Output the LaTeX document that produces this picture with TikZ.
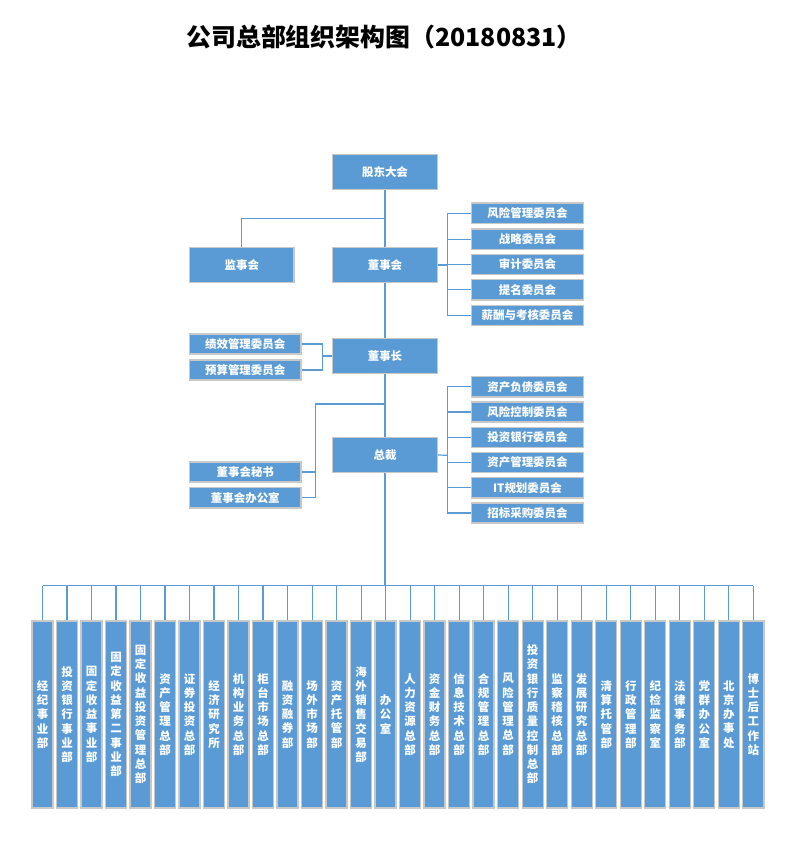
\documentclass[tikz,border=0pt]{standalone}
\usepackage{fontspec}
\newfontfamily\cjk{Noto Sans CJK SC}
\usetikzlibrary{calc}
\definecolor{boxblue}{HTML}{5B9BD5}
\definecolor{linkblue}{HTML}{5B9BD5}
\definecolor{boxedge}{HTML}{C8C8C8}
\begin{document}
\begin{tikzpicture}[x=1bp,y=-1bp,
  box/.style={fill=boxblue, draw=boxedge, line width=1.4bp, inner sep=0pt,
    text=white, font=\cjk\bfseries\fontsize{11.5}{14.3}\selectfont},
  bigbox/.style={box, minimum width=104.5bp, minimum height=34.6bp},
  cmbox/.style={box, minimum width=111.5bp, minimum height=20.3bp},
  colbox/.style={box, minimum width=21bp, minimum height=187bp, align=center},
  link/.style={draw=linkblue, line width=1.2bp},
  title/.style={font=\cjk\bfseries\fontsize{25}{30}\selectfont, text=black}
]
\useasboundingbox[fill=white] (0,0) rectangle (804,842);

% title
\node[title] (ttl) at (384,37) {公司总部组织架构图（20180831）};

% governance spine
\node[bigbox] (gd)  at (385,172) {股东大会};
\node[bigbox] (jsh) at (241.8,265) {监事会};
\node[bigbox] (dsh) at (385,265) {董事会};
\node[bigbox] (dsz) at (385,356) {董事长};
\node[bigbox] (zc)  at (385,455) {总裁};

% board committees
\node[cmbox] (c1) at (527.5,213.3) {风险管理委员会};
\node[cmbox] (c2) at (527.5,239.3) {战略委员会};
\node[cmbox] (c3) at (527.5,264.5) {审计委员会};
\node[cmbox] (c4) at (527.5,289.7) {提名委员会};
\node[cmbox] (c5) at (527.5,315.5) {薪酬与考核委员会};

% chairman committees
\node[cmbox] (l1) at (245.2,344) {绩效管理委员会};
\node[cmbox] (l2) at (245.2,370) {预算管理委员会};

% president committees
\node[cmbox] (d1) at (527.5,386.7) {资产负债委员会};
\node[cmbox] (d2) at (527.5,412) {风险控制委员会};
\node[cmbox] (d3) at (527.5,437.5) {投资银行委员会};
\node[cmbox] (d4) at (527.5,462.5) {资产管理委员会};
\node[cmbox] (d5) at (527.5,487.7) {IT规划委员会};
\node[cmbox] (d6) at (527.5,513) {招标采购委员会};

% board secretary
\node[cmbox] (s1) at (245.3,472) {董事会秘书};
\node[cmbox] (s2) at (245.3,497.7) {董事会办公室};

% departments
\foreach \t [count=\i] in {
  {经\\纪\\事\\业\\部},
  {投\\资\\银\\行\\事\\业\\部},
  {固\\定\\收\\益\\事\\业\\部},
  {固\\定\\收\\益\\第\\二\\事\\业\\部},
  {固\\定\\收\\益\\投\\资\\管\\理\\总\\部},
  {资\\产\\管\\理\\总\\部},
  {证\\券\\投\\资\\总\\部},
  {经\\济\\研\\究\\所},
  {机\\构\\业\\务\\总\\部},
  {柜\\台\\市\\场\\总\\部},
  {融\\资\\融\\券\\部},
  {场\\外\\市\\场\\部},
  {资\\产\\托\\管\\部},
  {海\\外\\销\\售\\交\\易\\部},
  {办\\公\\室},
  {人\\力\\资\\源\\总\\部},
  {资\\金\\财\\务\\总\\部},
  {信\\息\\技\\术\\总\\部},
  {合\\规\\管\\理\\总\\部},
  {风\\险\\管\\理\\总\\部},
  {投\\资\\银\\行\\质\\量\\控\\制\\总\\部},
  {监\\察\\稽\\核\\总\\部},
  {发\\展\\研\\究\\总\\部},
  {清\\算\\托\\管\\部},
  {行\\政\\管\\理\\部},
  {纪\\检\\监\\察\\室},
  {法\\律\\事\\务\\部},
  {党\\群\\办\\公\\室},
  {北\\京\\办\\事\\处},
  {博\\士\\后\\工\\作\\站}}
  \node[colbox] (b\i) at ({42.5+24.51*(\i-1)},714.4) {\t};

% junction points
\coordinate (j1) at (385,218.3);
\coordinate (cb) at (447.7,265);
\coordinate (lb) at (322.7,356);
\coordinate (sj) at (385,404);
\coordinate (sb) at (315.3,404);
\coordinate (db) at (447.7,455.3);
\coordinate (bus) at (385,585.7);

% connectors
\draw[link] (gd.south) -- (dsh.north);
\draw[link] (jsh.north) |- (j1);
\draw[link] (dsh.east) -- (cb);
\draw[link] (c1.west) -| (cb) |- (c5.west);
\foreach \n in {c2,c3,c4} \draw[link] (\n.west) -- (cb |- \n.west);
\draw[link] (dsh.south) -- (dsz.north);
\draw[link] (dsz.west) -- (lb);
\draw[link] (l1.east) -| (lb) |- (l2.east);
\draw[link] (dsz.south) -- (zc.north);
\draw[link] (sj) -- (sb) |- (s2.east);
\draw[link] (s1.east) -- (sb |- s1.east);
\draw[link] (zc.east) -- (db);
\draw[link] (d1.west) -| (db) |- (d6.west);
\foreach \n in {d2,d3,d4,d5} \draw[link] (\n.west) -- (db |- \n.west);
\draw[link] (zc.south) -- (bus);
\draw[link] (b1.north |- bus) -- (b30.north |- bus);
\foreach \i in {1,...,30} \draw[link] (b\i.north) -- (b\i.north |- bus);
\end{tikzpicture}
\end{document}
